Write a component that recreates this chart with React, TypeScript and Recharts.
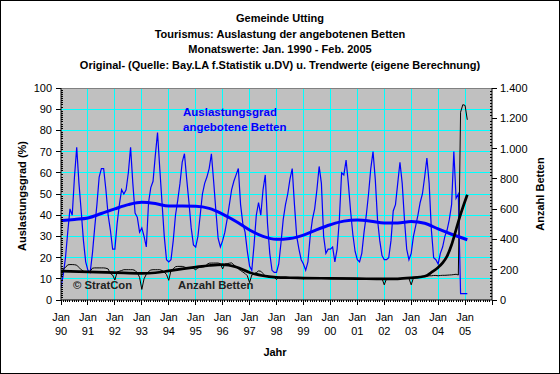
import React from 'react';
import { LineChart, Line, XAxis, YAxis, CartesianGrid, ReferenceLine } from 'recharts';

// ---- Data (monthly, Jan 1990 = month 0 ... Feb 2005 = month 181) ----
const yearLabels = ['90', '91', '92', '93', '94', '95', '96', '97', '98', '99', '00', '01', '02', '03', '04', '05'];

// Auslastungsgrad (%) – monthly original values
const auslastung = [
  6, 12, 20, 32, 43, 40, 58, 72, 55, 42, 28, 18,
  14, 13, 22, 34, 45, 58, 62, 62, 52, 40, 33, 24,
  24, 36, 45, 52, 50, 52, 60, 72, 55, 41, 39, 32,
  34, 30, 25, 46, 53, 56, 68, 79, 62, 46, 30, 19,
  18, 19, 28, 40, 47, 55, 65, 69, 57, 46, 34, 26,
  25, 30, 40, 50, 55, 58, 62, 69, 56, 42, 29, 25,
  28, 32, 38, 45, 52, 56, 59, 62, 45, 36, 32, 23,
  16, 14, 26, 40, 46, 40, 52, 59, 36, 22, 14, 13,
  13, 17, 27, 38, 45, 50, 57, 62, 45, 30, 24, 19,
  17, 14, 18, 30, 38, 43, 52, 63, 55, 30, 22, 24,
  24, 25, 18, 24, 38, 60, 59, 66, 55, 42, 31, 23,
  19, 18, 22, 32, 40, 50, 62, 70, 57, 38, 28, 21,
  19, 19, 20, 28, 42, 45, 55, 65, 55, 38, 24, 19,
  22, 30, 35, 40, 46, 50, 58, 67, 55, 33, 20, 19,
  17, 22, 25, 30, 33, 38, 45, 70, 48, 50, 3, 3,
  3, 3,
];

// Anzahl Betten – monthly original values
const betten = [
  150, 205, 215, 232, 234, 234, 233, 230, 215, 200, 190, 186,
  185, 190, 210, 212, 212, 212, 212, 212, 210, 205, 175, 165,
  132, 185, 190, 195, 200, 200, 200, 200, 200, 195, 180, 150,
  70, 140, 170, 188, 198, 200, 200, 200, 200, 195, 185, 168,
  130, 195, 205, 220, 222, 222, 222, 218, 212, 211, 211, 208,
  200, 212, 216, 218, 220, 235, 243, 244, 244, 244, 244, 240,
  205, 238, 240, 243, 245, 232, 220, 205, 195, 185, 175, 160,
  115, 165, 172, 180, 192, 190, 175, 158, 155, 150, 150, 150,
  135, 150, 150, 150, 150, 148, 148, 148, 148, 147, 147, 147,
  140, 147, 146, 146, 146, 146, 146, 145, 145, 145, 145, 145,
  143, 145, 145, 144, 144, 144, 144, 143, 143, 143, 143, 143,
  140, 142, 142, 142, 142, 142, 142, 142, 142, 142, 142, 142,
  100, 140, 142, 142, 142, 142, 142, 142, 142, 143, 143, 143,
  100, 145, 150, 152, 155, 155, 155, 158, 160, 160, 162, 162,
  160, 162, 163, 163, 164, 165, 166, 168, 170, 165, 1240, 1290,
  1285, 1190,
];

// Trend (own calculation) – Auslastungsgrad
const trendAuslMonths = [0, 6, 12, 18, 24, 30, 36, 42, 48, 54, 60, 66, 72, 78, 84, 90, 96, 102, 108, 114, 120, 126, 132, 138, 144, 150, 156, 162, 168, 174, 181];
const trendAuslValues = [37.4, 38, 38.7, 40.8, 43, 45, 46.1, 45.5, 44.3, 44.3, 44.2, 43.2, 40.5, 37, 33, 30, 28.6, 29, 30.6, 33.2, 35.5, 37.2, 37.7, 37.2, 36.3, 36.3, 37, 36.2, 33.5, 31, 28.4];

// Trend (own calculation) – Anzahl Betten
const trendBettenMonths = [0, 12, 24, 36, 42, 48, 54, 60, 66, 72, 78, 84, 90, 96, 102, 108, 120, 132, 144, 150, 156, 160, 163, 165, 168, 170, 172, 174, 176, 178, 181];
const trendBettenValues = [191, 186, 181, 176, 180, 192, 205, 217, 228, 234, 218, 182, 160, 150, 147, 145, 143, 141, 139, 140, 146, 152, 162, 182, 215, 245, 290, 365, 465, 565, 695];

// ---- Table for the chart ----
type Row = { m: number; ausl: number; betten: number; trendA: number | null; trendB: number | null };
const data: Row[] = auslastung.map((a, i) => ({ m: i, ausl: a, betten: betten[i], trendA: null, trendB: null }));
trendAuslMonths.forEach((m, k) => { data[m].trendA = trendAuslValues[k]; });
trendBettenMonths.forEach((m, k) => { data[m].trendB = trendBettenValues[k]; });

const monthTicks = Array.from({ length: 193 }, (_, i) => i);
const leftTicks = Array.from({ length: 101 }, (_, i) => i);
const rightTicks = Array.from({ length: 71 }, (_, i) => i * 20);
const gridH = [10, 20, 30, 40, 50, 60, 70, 80, 90];
const gridV = Array.from({ length: 15 }, (_, i) => (i + 1) * 12);

const FONT = '"Liberation Sans", Arial, sans-serif';

const fmtDe = (v: number) => (v >= 1000 ? `${Math.floor(v / 1000)}.${String(v % 1000).padStart(3, '0')}` : String(v));

const XTick = (props: any) => {
  const { x, y, payload } = props;
  const v = payload.value as number;
  if (v % 12 === 0) {
    const idx = v / 12;
    return (
      <g>
        <line x1={x} y1={y} x2={x} y2={y + 5} stroke="#000" shapeRendering="crispEdges" />
        {idx < yearLabels.length && (
          <g fontFamily={FONT} fontSize={11} fill="#000" textAnchor="middle">
            <text x={x} y={y + 21}>Jan</text>
            <text x={x} y={y + 35}>{yearLabels[idx]}</text>
          </g>
        )}
      </g>
    );
  }
  return <line x1={x} y1={y} x2={x} y2={y + 2} stroke="#000" shapeRendering="crispEdges" />;
};

const LeftTick = (props: any) => {
  const { x, y, payload } = props;
  const v = payload.value as number;
  if (v % 10 === 0) {
    return (
      <g>
        <line x1={x - 5} y1={y} x2={x} y2={y} stroke="#000" shapeRendering="crispEdges" />
        <text x={x - 9} y={y + 4} textAnchor="end" fontFamily={FONT} fontSize={11} fill="#000">{v}</text>
      </g>
    );
  }
  return <line x1={x} y1={y} x2={x + 2} y2={y} stroke="#000" shapeRendering="crispEdges" />;
};

const RightTick = (props: any) => {
  const { x, y, payload } = props;
  const v = payload.value as number;
  if (v % 200 === 0) {
    return (
      <g>
        <line x1={x} y1={y} x2={x + 5} y2={y} stroke="#000" shapeRendering="crispEdges" />
        <text x={x + 8} y={y + 4} textAnchor="start" fontFamily={FONT} fontSize={11} fill="#000">{fmtDe(v)}</text>
      </g>
    );
  }
  return <line x1={x - 2} y1={y} x2={x} y2={y} stroke="#000" shapeRendering="crispEdges" />;
};

const Txt = (p: { x: number; y: number; children: React.ReactNode; align?: 'left' | 'center'; rotate?: boolean; color?: string; size?: number; bold?: boolean }) => {
  const tx = p.align === 'left' ? '0' : '-50%';
  return (
    <div
      style={{
        position: 'absolute',
        left: p.x,
        top: p.y,
        transform: `translate(${tx}, -50%)${p.rotate ? ' rotate(-90deg)' : ''}`,
        transformOrigin: p.rotate ? '50% 50%' : undefined,
        whiteSpace: 'nowrap',
        fontFamily: FONT,
        fontSize: p.size ?? 11,
        fontWeight: p.bold === false ? 'normal' : 'bold',
        color: p.color ?? '#000',
        lineHeight: 1,
      }}
    >
      {p.children}
    </div>
  );
};

export default function App() {
  return (
    <div style={{ position: 'absolute', left: 0, top: 0, width: 560, height: 374, background: '#fff', overflow: 'hidden' }}>
      <LineChart width={560} height={374} data={data} margin={{ top: 88, right: 0, bottom: 0, left: 0 }}>
        <CartesianGrid
          yAxisId="left"
          horizontalValues={gridH}
          verticalValues={gridV}
          stroke="#00FFFF"
          fill="#C0C0C0"
          fillOpacity={1}
          shapeRendering="crispEdges"
        />
        <ReferenceLine yAxisId="left" y={100} stroke="#808080" shapeRendering="crispEdges" />
        <XAxis
          type="number"
          dataKey="m"
          domain={[0, 192]}
          ticks={monthTicks}
          interval={0}
          tickLine={false}
          tickSize={0}
          tickMargin={0}
          tick={<XTick />}
          axisLine={{ stroke: '#000' }}
          height={74}
          allowDataOverflow
        />
        <YAxis
          yAxisId="left"
          domain={[0, 100]}
          ticks={leftTicks}
          interval={0}
          tickLine={false}
          tickSize={0}
          tickMargin={0}
          tick={<LeftTick />}
          axisLine={{ stroke: '#000' }}
          width={61}
          allowDataOverflow
        />
        <YAxis
          yAxisId="right"
          orientation="right"
          domain={[0, 1400]}
          ticks={rightTicks}
          interval={0}
          tickLine={false}
          tickSize={0}
          tickMargin={0}
          tick={<RightTick />}
          axisLine={{ stroke: '#000' }}
          width={68}
          allowDataOverflow
        />
        <Line yAxisId="left" type="linear" dataKey="ausl" stroke="#0000FF" strokeWidth={1.2} dot={false} activeDot={false} isAnimationActive={false} />
        <Line yAxisId="right" type="linear" dataKey="betten" stroke="#000000" strokeWidth={1} dot={false} activeDot={false} isAnimationActive={false} />
        <Line yAxisId="left" type="monotone" dataKey="trendA" stroke="#0000FF" strokeWidth={3} dot={false} activeDot={false} connectNulls isAnimationActive={false} />
        <Line yAxisId="right" type="monotone" dataKey="trendB" stroke="#000000" strokeWidth={2.7} dot={false} activeDot={false} connectNulls isAnimationActive={false} />
      </LineChart>

      {/* Titles */}
      <Txt x={280} y={18}>Gemeinde Utting</Txt>
      <Txt x={280} y={33.5}>Tourismus: Auslastung der angebotenen Betten</Txt>
      <Txt x={280} y={49}>Monatswerte: Jan. 1990 - Feb. 2005</Txt>
      <Txt x={280} y={64.5}>Original- (Quelle: Bay.LA f.Statistik u.DV) u. Trendwerte (eigene Berechnung)</Txt>

      {/* Axis titles */}
      <Txt x={22} y={196} rotate>Auslastungsgrad (%)</Txt>
      <Txt x={540} y={194} rotate>Anzahl Betten</Txt>
      <Txt x={275} y={352}>Jahr</Txt>

      {/* In-plot annotations */}
      <Txt x={183} y={113} align="left" color="#0000FF" size={11.5}>Auslastungsgrad</Txt>
      <Txt x={183} y={128} align="left" color="#0000FF" size={11.5}>angebotene Betten</Txt>
      <Txt x={73} y={286} align="left" color="#222" size={11.3}>© StratCon</Txt>
      <Txt x={178} y={286} align="left" color="#222" size={11.3}>Anzahl Betten</Txt>

      {/* Outer frame */}
      <div style={{ position: 'absolute', left: 0, top: 0, width: 560, height: 374, border: '1px solid #000', boxSizing: 'border-box', pointerEvents: 'none' }} />
    </div>
  );
}
